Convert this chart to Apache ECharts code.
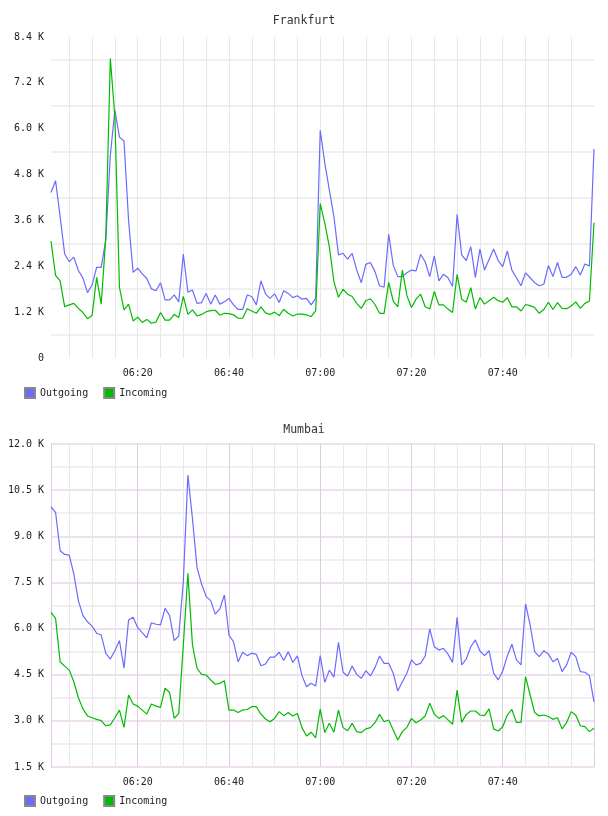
<!DOCTYPE html>
<html>
<head>
<meta charset="utf-8">
<script src="https://cdn.jsdelivr.net/npm/echarts@6/dist/echarts.min.js"></script>
<style>
  html, body { margin: 0; padding: 0; background: #fff; }
  #chart { width: 608px; height: 816px; }
</style>
</head>
<body>
<div id="chart"></div>
<script>
// minute labels 06:01 .. 08:00
var times = []
for (var m = 6 * 60 + 1; m <= 8 * 60; m++) {
  times.push(String(Math.floor(m / 60)).padStart(2, '0') + ':' + String(m % 60).padStart(2, '0'))
}

// Frankfurt, values in K
var frankfurtOut = [
  4.33, 4.64, 3.70, 2.72, 2.52, 2.64, 2.29, 2.09, 1.71, 1.91, 2.37, 2.37, 3.09,
  5.3, 6.49, 5.78, 5.68, 3.6, 2.24, 2.35,
  2.20, 2.08, 1.81, 1.76, 1.97, 1.52, 1.52, 1.65, 1.47, 2.72,
  1.72, 1.78, 1.43, 1.45, 1.69, 1.41, 1.65, 1.41, 1.47, 1.56,
  1.39, 1.27, 1.27, 1.65, 1.61, 1.39, 2.02, 1.68, 1.56, 1.68,
  1.45, 1.76, 1.69, 1.58, 1.63, 1.54, 1.56, 1.39, 1.56, 5.96,
  5.1, 4.4, 3.7, 2.70, 2.74, 2.59, 2.74, 2.30, 1.97, 2.45,
  2.50, 2.26, 1.89, 1.85, 3.24, 2.43, 2.13, 2.13, 2.23, 2.30,
  2.28, 2.71, 2.52, 2.13, 2.67, 2.02, 2.19, 2.10, 1.87, 3.76,
  2.70, 2.55, 2.91, 2.11, 2.85, 2.30, 2.58, 2.85, 2.55, 2.39,
  2.80, 2.30, 2.10, 1.89, 2.23, 2.10, 1.97, 1.89, 1.93, 2.42,
  2.13, 2.50, 2.11, 2.11, 2.19, 2.39, 2.17, 2.46, 2.41, 5.47
]
var frankfurtIn = [
  3.06, 2.16, 2.02, 1.34, 1.39, 1.43, 1.30, 1.19, 1.03, 1.11, 2.11, 1.41, 3.13,
  7.84, 6.3, 1.85, 1.26, 1.41, 0.97, 1.07,
  0.93, 1.01, 0.91, 0.94, 1.19, 0.99, 0.99, 1.14, 1.06, 1.61,
  1.14, 1.26, 1.10, 1.14, 1.21, 1.24, 1.25, 1.12, 1.17, 1.16,
  1.13, 1.04, 1.04, 1.29, 1.23, 1.17, 1.34, 1.18, 1.14, 1.20,
  1.11, 1.27, 1.17, 1.10, 1.15, 1.15, 1.13, 1.08, 1.23, 4.04,
  3.53, 2.91, 2.00, 1.59, 1.80, 1.67, 1.61, 1.43, 1.30, 1.50,
  1.55, 1.40, 1.17, 1.17, 1.98, 1.49, 1.34, 2.30, 1.63, 1.32,
  1.54, 1.67, 1.34, 1.28, 1.74, 1.39, 1.39, 1.28, 1.19, 2.19,
  1.54, 1.46, 1.84, 1.28, 1.58, 1.41, 1.50, 1.59, 1.50, 1.46,
  1.58, 1.34, 1.34, 1.23, 1.40, 1.37, 1.32, 1.17, 1.27, 1.46,
  1.27, 1.45, 1.30, 1.29, 1.36, 1.47, 1.30, 1.43, 1.49, 3.54
]

// Mumbai, values in K
var mumbaiOut = [
  9.96, 9.78, 8.53, 8.41, 8.39, 7.77, 6.91, 6.42, 6.22, 6.08,
  5.85, 5.79, 5.20, 5.01, 5.28, 5.61, 4.71, 6.28, 6.37, 6.03,
  5.87, 5.70, 6.19, 6.14, 6.12, 6.66, 6.42, 5.61, 5.76, 7.53,
  10.99, 9.58, 7.98, 7.45, 7.04, 6.91, 6.47, 6.64, 7.09, 5.79,
  5.57, 4.92, 5.23, 5.12, 5.20, 5.16, 4.79, 4.85, 5.07, 5.07,
  5.23, 4.96, 5.25, 4.90, 5.11, 4.47, 4.11, 4.22, 4.13, 5.12,
  4.25, 4.65, 4.42, 5.55, 4.58, 4.46, 4.78, 4.51, 4.38, 4.63,
  4.46, 4.73, 5.11, 4.87, 4.87, 4.55, 3.97, 4.27, 4.55, 4.98,
  4.82, 4.87, 5.11, 5.99, 5.41, 5.30, 5.36, 5.17, 4.90, 6.37,
  4.82, 5.01, 5.41, 5.63, 5.27, 5.12, 5.28, 4.55, 4.33, 4.62,
  5.11, 5.49, 4.98, 4.82, 6.80, 6.12, 5.25, 5.09, 5.28, 5.17,
  4.92, 5.03, 4.60, 4.82, 5.23, 5.09, 4.60, 4.58, 4.47, 3.62
]
var mumbaiIn = [
  6.53, 6.33, 4.92, 4.78, 4.65, 4.27, 3.75, 3.39, 3.16, 3.10,
  3.05, 3.01, 2.84, 2.87, 3.10, 3.35, 2.79, 3.84, 3.55, 3.48,
  3.35, 3.22, 3.55, 3.48, 3.44, 4.06, 3.92, 3.08, 3.24, 5.47,
  7.80, 5.47, 4.71, 4.51, 4.49, 4.33, 4.19, 4.22, 4.30, 3.35,
  3.35, 3.27, 3.35, 3.37, 3.46, 3.46, 3.22, 3.06, 2.97, 3.08,
  3.30, 3.17, 3.27, 3.16, 3.24, 2.78, 2.51, 2.63, 2.45, 3.38,
  2.62, 2.92, 2.63, 3.35, 2.78, 2.68, 2.92, 2.65, 2.62, 2.74,
  2.78, 2.94, 3.21, 2.97, 3.03, 2.70, 2.38, 2.65, 2.79, 3.08,
  2.94, 3.03, 3.16, 3.57, 3.22, 3.08, 3.17, 3.03, 2.89, 4.00,
  2.95, 3.21, 3.32, 3.32, 3.19, 3.17, 3.39, 2.74, 2.67, 2.81,
  3.19, 3.37, 2.95, 2.95, 4.44, 3.84, 3.27, 3.16, 3.19, 3.14,
  3.05, 3.10, 2.74, 2.95, 3.30, 3.19, 2.84, 2.81, 2.65, 2.76
]

var FONT = 'DejaVu Sans Mono'
var BLUE = '#6b6bff'
var GREEN = '#00bb00'

function minuteOf(v) { return parseInt(v.slice(3), 10) }
function every5(idx, v) { return minuteOf(v) % 5 === 0 }
function every5NoEnd(idx, v) { return minuteOf(v) % 5 === 0 && idx < times.length - 1 }
function every20(idx, v) { return minuteOf(v) % 20 === 0 && idx < times.length - 1 }
function kLabel(v) { return v === 0 ? '0' : v.toFixed(1) + ' K' }

function xAxis(gridIndex, splitInterval, splitColor) {
  return {
    type: 'category', gridIndex: gridIndex, data: times, boundaryGap: false,
    axisLine: { show: false },
    axisTick: { show: false },
    axisLabel: { interval: every20, fontFamily: FONT, fontSize: 10, color: '#222', margin: 10 },
    splitLine: { show: true, interval: splitInterval, lineStyle: { color: splitColor, width: 1 } }
  }
}

function legend(top) {
  return {
    left: 24, top: top, padding: 0, itemWidth: 10, itemHeight: 10, itemGap: 15, icon: 'rect',
    data: ['Outgoing', 'Incoming'], selectedMode: false,
    textStyle: { fontFamily: FONT, fontSize: 10, color: '#222' }
  }
}

var chart = echarts.init(document.getElementById('chart'), null, { renderer: 'canvas' })

chart.setOption({
  animation: false,
  backgroundColor: '#fff',
  title: [
    { text: 'Frankfurt', left: 'center', top: 15, padding: 0,
      textStyle: { fontFamily: FONT, fontSize: 11.5, fontWeight: 'normal', color: '#333' } },
    { text: 'Mumbai', left: 'center', top: 424, padding: 0,
      textStyle: { fontFamily: FONT, fontSize: 11.5, fontWeight: 'normal', color: '#333' } }
  ],
  legend: [legend(387), legend(795)],
  grid: [
    { left: 51, top: 37, width: 543, height: 321 },
    { left: 51, top: 444, width: 543, height: 323 }
  ],
  xAxis: [
    xAxis(0, every5NoEnd, '#e8e8e8'),
    xAxis(1, every5, ['#ebe7eb', '#ebe7eb', '#ebe7eb', '#e0cce0'])
  ],
  yAxis: [
    {
      type: 'value', gridIndex: 0, min: 0, max: 8.4, interval: 1.2,
      axisLine: { show: false }, axisTick: { show: false },
      axisLabel: { formatter: kLabel, fontFamily: FONT, fontSize: 10, color: '#222', margin: 7 },
      splitLine: { show: false },
      minorTick: { show: false, splitNumber: 2 },
      minorSplitLine: { show: true, lineStyle: { color: '#f0f0f0', width: 2 } }
    },
    {
      type: 'value', gridIndex: 1, min: 1.5, max: 12, interval: 1.5,
      axisLine: { show: true, lineStyle: { color: '#e0cce0', width: 1 } }, axisTick: { show: false },
      axisLabel: { formatter: kLabel, fontFamily: FONT, fontSize: 10, color: '#222', margin: 7 },
      splitLine: { show: true, lineStyle: { color: '#efe0f0', width: 2 } },
      minorTick: { show: false, splitNumber: 2 },
      minorSplitLine: { show: true, lineStyle: { color: '#f0f0f0', width: 2 } }
    }
  ],
  series: [
    { name: 'Outgoing', type: 'line', xAxisIndex: 0, yAxisIndex: 0, data: frankfurtOut,
      showSymbol: false, color: BLUE, lineStyle: { width: 1.2 },
      itemStyle: { borderColor: '#888', borderWidth: 1 } },
    { name: 'Incoming', type: 'line', xAxisIndex: 0, yAxisIndex: 0, data: frankfurtIn,
      showSymbol: false, color: GREEN, lineStyle: { width: 1.2 },
      itemStyle: { borderColor: '#888', borderWidth: 1 } },
    { name: 'Outgoing', type: 'line', xAxisIndex: 1, yAxisIndex: 1, data: mumbaiOut,
      showSymbol: false, color: BLUE, lineStyle: { width: 1.2 },
      itemStyle: { borderColor: '#888', borderWidth: 1 } },
    { name: 'Incoming', type: 'line', xAxisIndex: 1, yAxisIndex: 1, data: mumbaiIn,
      showSymbol: false, color: GREEN, lineStyle: { width: 1.2 },
      itemStyle: { borderColor: '#888', borderWidth: 1 } }
  ]
})
</script>
</body>
</html>
